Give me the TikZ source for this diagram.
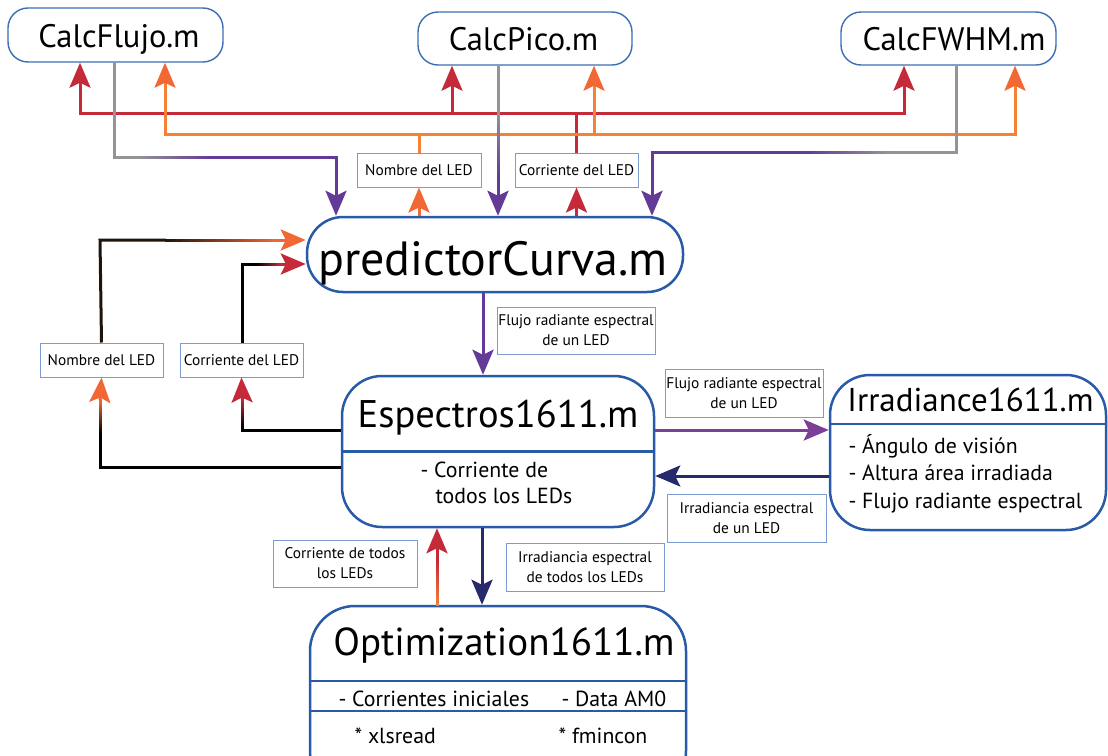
\documentclass[tikz,border=0pt]{standalone}
\usepackage{fontspec}
\setmainfont{PT Sans}
\usetikzlibrary{arrows.meta,calc}
\definecolor{boxblue}{RGB}{40,90,168}
\definecolor{calcblue}{RGB}{60,110,180}
\definecolor{lblblue}{RGB}{125,155,210}
\definecolor{cred}{RGB}{197,42,58}
\definecolor{corange}{RGB}{245,130,52}
\definecolor{corangeh}{RGB}{242,104,52}
\definecolor{cpurple}{RGB}{100,58,152}
\definecolor{cpurplem}{RGB}{125,62,152}
\definecolor{cgray}{RGB}{148,148,150}
\definecolor{cnavy}{RGB}{38,42,108}
\definecolor{cdark}{RGB}{30,20,12}
\newcommand\calcfont{\fontsize{32.5}{36}\selectfont}
\newcommand\predfont{\fontsize{48}{52}\selectfont}
\newcommand\espfont{\fontsize{38.5}{42}\selectfont}
\newcommand\irrfont{\fontsize{33}{36}\selectfont}
\newcommand\optfont{\fontsize{39}{42}\selectfont}
\newcommand\itemfont{\fontsize{21.8}{27}\selectfont}
\newcommand\lblfont{\fontsize{15.4}{20}\selectfont}
% gradient line piece: #1 start coordinate, #2 end coordinate, #3 start colour, #4 end colour
\newcommand\gradseg[4]{%
  \foreach \k in {0,...,19}{%
    \pgfmathsetmacro\gpa{\k/20}%
    \pgfmathsetmacro\gpb{(\k+1)/20}%
    \pgfmathsetmacro\gpc{100-100*(\k+0.5)/20}%
    \draw[line width=3pt, line cap=rect, color=#3!\gpc!#4] ($(#1)!\gpa!(#2)$) -- ($(#1)!\gpb!(#2)$);
  }%
}
\tikzset{
  calcbox/.style={draw=calcblue, line width=1.4pt, rounded corners=20pt, inner sep=0pt},
  bigbox/.style={draw=boxblue, line width=2.5pt, rounded corners=#1, inner sep=0pt},
  lblbox/.style={draw=lblblue, line width=1pt, inner sep=0pt, align=center, font=\lblfont},
  conn/.style={line width=3pt},
  tipend/.style={-{Stealth[length=25pt,width=21pt,inset=5pt,color=#1]}},
  tipboth/.style={{Stealth[length=25pt,width=21pt,inset=5pt,color=#1]}-{Stealth[length=25pt,width=21pt,inset=5pt,color=#1]}},
}
\begin{document}
\begin{tikzpicture}[x=1pt,y=-1pt]
\useasboundingbox (0,0) rectangle (1108,755);

% ---------- boxes ----------
\node[calcbox, minimum width=215pt, minimum height=54pt] (cflujo) at (115.5,35) {};
\node[anchor=base, font=\calcfont] (tflujo) at (119,47) {CalcFlujo.m};
\node[calcbox, minimum width=214pt, minimum height=53pt] (cpico) at (525,38.5) {};
\node[anchor=base, font=\calcfont] (tpico) at (523.5,50) {CalcPico.m};
\node[calcbox, minimum width=215pt, minimum height=53pt] (cfwhm) at (948.5,38.5) {};
\node[anchor=base, font=\calcfont] (tfwhm) at (954,50) {CalcFWHM.m};

\node[bigbox=36pt, minimum width=376pt, minimum height=75pt] (pred) at (495,254.5) {};
\node[anchor=base, font=\predfont] (tpred) at (493,275) {predictorCurva.m};

\node[bigbox=40pt, minimum width=312pt, minimum height=151pt] (esp) at (498,451.5) {};
\draw[boxblue, line width=2.5pt] (esp.west) -- (esp.east);
\node[anchor=base, font=\espfont] (tesp) at (498,427) {Espectros1611.m};
\node[anchor=base west, font=\itemfont] (esp1) at (417,477) {- Corriente de};
\node[anchor=base west, font=\itemfont] (esp2) at (432,503) {todos los LEDs};

\node[bigbox=40pt, minimum width=276pt, minimum height=155pt] (irr) at (968,452.5) {};
\draw[boxblue, line width=2.5pt] (irr.west |- 0,424) -- (irr.east |- 0,424);
\node[anchor=base, font=\irrfont] (tirr) at (970.5,411) {Irradiance1611.m};
\node[anchor=base west, font=\itemfont] (irr1) at (845,453) {- Ángulo de visión};
\node[anchor=base west, font=\itemfont] (irr2) at (845,480) {- Altura área irradiada};
\node[anchor=base west, font=\itemfont] (irr3) at (845,508) {- Flujo radiante espectral};

\node[bigbox=45pt, minimum width=376pt, minimum height=190pt] (opt) at (498,701) {};
\draw[boxblue, line width=2.5pt] (opt.west |- 0,681) -- (opt.east |- 0,681);
\draw[boxblue, line width=2.5pt] (opt.west |- 0,711) -- (opt.east |- 0,711);
\node[anchor=base, font=\optfont] (topt) at (504,655) {Optimization1611.m};
\node[anchor=base west, font=\itemfont] (opt1) at (335,706) {- Corrientes iniciales};
\node[anchor=base west, font=\itemfont] (opt2) at (558,706) {- Data AM0};
\node[anchor=base west, font=\itemfont] (opt3) at (351,743) {* xlsread};
\node[anchor=base west, font=\itemfont] (opt4) at (555,743) {* fmincon};

% ---------- label boxes ----------
\node[lblbox, minimum width=124pt, minimum height=34pt] (nomT) at (419,170) {Nombre del LED};
\node[lblbox, minimum width=123pt, minimum height=34pt] (corT) at (576.5,170) {Corriente del LED};
\node[lblbox, minimum width=123pt, minimum height=34pt] (nomL) at (101.5,360) {Nombre del LED};
\node[lblbox, minimum width=123pt, minimum height=34pt] (corL) at (241.5,360) {Corriente del LED};
\node[lblbox, minimum width=158pt, minimum height=47pt] (flu1) at (576,330.5) {Flujo radiante espectral\\de un LED};
\node[lblbox, minimum width=158pt, minimum height=48pt] (flu2) at (744,393) {Flujo radiante espectral\\de un LED};
\node[lblbox, minimum width=159pt, minimum height=48pt] (irrl) at (746.5,518) {Irradiancia espectral\\de un LED};
\node[lblbox, minimum width=144pt, minimum height=47pt] (cort) at (345,563.5) {Corriente de todos\\los LEDs};
\node[lblbox, minimum width=158pt, minimum height=48pt] (irrt) at (585,567) {Irradiancia espectral\\de todos los LEDs};

% ---------- red bus ----------
\coordinate (rL) at (80,113);
\coordinate (rM) at (452,113);
\coordinate (rR) at (904,113);
\coordinate (rJ) at (corT.north |- 0,113);
\draw[conn, cred, tipboth=cred] (rL |- cflujo.south) -- (rL) -- (rR) -- (rR |- cfwhm.south);
\draw[conn, cred, tipend=cred] (rM) -- (rM |- cpico.south);
\draw[conn, cred] (corT.north) -- (rJ);

% ---------- orange bus ----------
\coordinate (oL) at (165,134);
\coordinate (oM) at (594,134);
\coordinate (oR) at (1015,134);
\coordinate (oJ) at (nomT.north |- 0,134);
\draw[conn, corange, tipboth=corangeh] (oL |- cflujo.south) -- (oL) -- (oR) -- (oR |- cfwhm.south);
\draw[conn, corange, tipend=corangeh] (oM) -- (oM |- cpico.south);
\draw[conn, corange] (nomT.north) -- (oJ);

% ---------- gray -> purple into predictor ----------
\coordinate (g1a) at (cflujo.south -| 114,0);
\coordinate (g1b) at (114,157);
\coordinate (g1s) at (140,157);
\coordinate (g1e) at (212,157);
\coordinate (g1c) at (336,157);
\draw[conn, cgray] (g1a) -- (g1b) -- (g1s);
\gradseg{g1s}{g1e}{cgray}{cpurple}
\draw[conn, cpurple, tipend=cpurple] (g1e) -- (g1c) -- (g1c |- pred.north);

\coordinate (g2a) at (cpico.south -| 498,0);
\coordinate (g2s) at (498,115);
\coordinate (g2e) at (498,178);
\draw[conn, cgray] (g2a) -- (g2s);
\gradseg{g2s}{g2e}{cgray}{cpurple}
\draw[conn, cpurple, tipend=cpurple] (g2e) -- (g2e |- pred.north);

\coordinate (g3a) at (cfwhm.south -| 956,0);
\coordinate (g3b) at (956,152);
\coordinate (g3s) at (888,152);
\coordinate (g3e) at (805,152);
\coordinate (g3c) at (652,152);
\draw[conn, cgray] (g3a) -- (g3b) -- (g3s);
\gradseg{g3s}{g3e}{cgray}{cpurple}
\draw[conn, cpurple, tipend=cpurple] (g3e) -- (g3c) -- (g3c |- pred.north);

% ---------- predictor -> labels ----------
\draw[conn, corangeh, tipend=corangeh] (pred.north -| nomT.south) -- (nomT.south);
\draw[conn, cred, tipend=cred] (pred.north -| corT.south) -- (corT.south);

% ---------- predictor -> espectros ----------
\draw[conn, cpurple, tipend=cpurple] (pred.south -| 483,0) -- (esp.north -| 483,0);

% ---------- espectros -> left labels -> predictor ----------
\coordinate (n1) at (100,467);
\coordinate (n1s) at (100,432);
\coordinate (n1e) at (100,400);
\draw[conn, black] (esp.west |- n1) -- (n1) -- (n1s);
\gradseg{n1s}{n1e}{black}{corangeh}
\draw[conn, corangeh, tipend=corangeh] (n1e) -- (nomL.south);

\coordinate (c1) at (242,430);
\coordinate (c1s) at (242,426);
\coordinate (c1e) at (242,398);
\draw[conn, black] (esp.west |- c1) -- (c1) -- (c1s);
\gradseg{c1s}{c1e}{black}{cred}
\draw[conn, cred, tipend=cred] (c1e) -- (corL.south);

\coordinate (n2) at (100,240);
\coordinate (n2s) at (166,240);
\coordinate (n2e) at (280,240);
\draw[conn, cdark] (nomL.north) -- (n2) -- (n2s);
\gradseg{n2s}{n2e}{cdark}{corangeh}
\draw[conn, corangeh, tipend=corangeh] (n2e) -- (pred.west |- n2);

\coordinate (c2) at (242,264);
\coordinate (c2s) at (258,264);
\coordinate (c2e) at (282,264);
\draw[conn, black] (c2 |- corL.north) -- (c2) -- (c2s);
\gradseg{c2s}{c2e}{black}{cred}
\draw[conn, cred, tipend=cred] (c2e) -- (pred.west |- c2);

% ---------- espectros <-> irradiance ----------
\draw[conn, cpurplem, tipend=cpurplem] (esp.east |- 0,430) -- (irr.west |- 0,430);
\draw[conn, cnavy, tipend=cnavy] (irr.west |- 0,476) -- (esp.east |- 0,476);

% ---------- espectros <-> optimization ----------
\coordinate (u1) at (opt.north -| 437,0);
\coordinate (u1e) at (437,560);
\gradseg{u1}{u1e}{corange}{cred}
\draw[conn, cred, tipend=cred] (u1e) -- (esp.south -| u1e);
\draw[conn, cnavy, tipend=cnavy] (esp.south -| 482,0) -- (opt.north -| 482,0);
\end{tikzpicture}
\end{document}
